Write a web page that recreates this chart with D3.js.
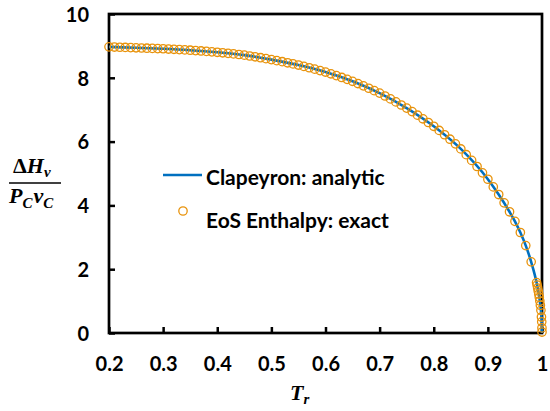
<!DOCTYPE html>
<html>
<head>
<meta charset="utf-8">
<script src="https://cdn.jsdelivr.net/npm/d3@7/dist/d3.min.js"></script>
<style>
  html, body { margin: 0; padding: 0; background: #fff; }
  svg { display: block; }
  .tick text { font-family: Lato, "Open Sans", sans-serif; font-weight: 700; font-size: 20px; fill: #000; }
</style>
</head>
<body>
<svg id="chart" width="550" height="411"></svg>
<script>
// Reduced temperature grid for the exact EoS enthalpy points
const eosTr = [
  0.20, 0.21, 0.22, 0.23, 0.24, 0.25, 0.26, 0.27, 0.28, 0.29,
  0.30, 0.31, 0.32, 0.33, 0.34, 0.35, 0.36, 0.37, 0.38, 0.39,
  0.40, 0.41, 0.42, 0.43, 0.44, 0.45, 0.46, 0.47, 0.48, 0.49,
  0.50, 0.51, 0.52, 0.53, 0.54, 0.55, 0.56, 0.57, 0.58, 0.59,
  0.60, 0.61, 0.62, 0.63, 0.64, 0.65, 0.66, 0.67, 0.68, 0.69,
  0.70, 0.71, 0.72, 0.73, 0.74, 0.75, 0.76, 0.77, 0.78, 0.79,
  0.80, 0.81, 0.82, 0.83, 0.84, 0.85, 0.86, 0.87, 0.88, 0.89,
  0.90, 0.91, 0.92, 0.93, 0.94, 0.95, 0.96, 0.97, 0.98, 0.99,
  0.991, 0.992, 0.993, 0.994, 0.995, 0.996, 0.997, 0.998, 0.999,
  0.9995, 0.9999, 1.0
];
// Dimensionless enthalpy of vaporization, dHv / (Pc vc), from the EoS
const eosEnthalpy = [
  8.970, 8.964, 8.958, 8.952, 8.946, 8.940, 8.934, 8.928, 8.922, 8.916,
  8.910, 8.902, 8.893, 8.884, 8.875, 8.865, 8.853, 8.841, 8.828, 8.814,
  8.800, 8.784, 8.767, 8.750, 8.731, 8.710, 8.684, 8.658, 8.630, 8.600,
  8.570, 8.538, 8.505, 8.471, 8.436, 8.400, 8.358, 8.315, 8.271, 8.226,
  8.180, 8.125, 8.069, 8.011, 7.951, 7.890, 7.819, 7.747, 7.673, 7.597,
  7.520, 7.430, 7.338, 7.244, 7.148, 7.050, 6.940, 6.828, 6.714, 6.598,
  6.480, 6.350, 6.215, 6.075, 5.930, 5.770, 5.590, 5.410, 5.220, 5.020,
  4.820, 4.580, 4.340, 4.080, 3.800, 3.500, 3.150, 2.740, 2.230, 1.580,
  1.500, 1.410, 1.320, 1.220, 1.120, 1.000, 0.870, 0.710, 0.500,
  0.350, 0.160, 0.030
];

// Clapeyron analytic curve
const clapeyronTr = [
  0.20, 0.25, 0.30, 0.35, 0.40, 0.45, 0.50, 0.55, 0.60, 0.65,
  0.70, 0.75, 0.80, 0.85, 0.90, 0.92, 0.94, 0.95, 0.96, 0.97,
  0.98, 0.99, 0.993, 0.996, 0.998, 0.999, 0.9997, 1.0
];
const clapeyron = [
  8.970, 8.940, 8.910, 8.865, 8.800, 8.710, 8.570, 8.400, 8.180, 7.890,
  7.520, 7.050, 6.480, 5.770, 4.820, 4.340, 3.800, 3.500, 3.150, 2.740,
  2.230, 1.580, 1.320, 1.000, 0.710, 0.500, 0.270, 0.0
];

const xTicks = [0.2, 0.3, 0.4, 0.5, 0.6, 0.7, 0.8, 0.9, 1];
const yTicks = [0, 2, 4, 6, 8, 10];
const seriesNames = ["Clapeyron: analytic", "EoS Enthalpy: exact"];

const lineColor = "#0070C0";
const markerColor = "#E8930C";

const svg = d3.select("#chart");
const plot = { left: 109, right: 542, top: 14, bottom: 333 };

const x = d3.scaleLinear().domain([0.2, 1]).range([plot.left, plot.right]);
const y = d3.scaleLinear().domain([0, 10]).range([plot.bottom, plot.top]);

// Axes with inward ticks
const xAxis = svg.append("g")
  .attr("transform", `translate(0,${plot.bottom})`)
  .call(d3.axisBottom(x).tickValues(xTicks).tickSize(-6).tickPadding(24)
    .tickFormat(d => d === 1 ? "1" : d3.format(".1f")(d)));
const yAxis = svg.append("g")
  .attr("transform", `translate(${plot.left},0)`)
  .call(d3.axisLeft(y).tickValues(yTicks).tickSize(-6).tickPadding(20)
    .tickFormat(d3.format("d")));

[xAxis, yAxis].forEach(g => {
  g.select(".domain").remove();
  g.selectAll(".tick line").attr("stroke", "#000").attr("stroke-width", 2.5);
  g.selectAll(".tick text").attr("fill", "#000");
});
xAxis.selectAll(".tick text").attr("dy", "0.72em");
yAxis.selectAll(".tick text").attr("dy", "0.36em");

// Plot frame
svg.append("rect")
  .attr("x", plot.left).attr("y", plot.top)
  .attr("width", plot.right - plot.left).attr("height", plot.bottom - plot.top)
  .attr("fill", "none").attr("stroke", "#000").attr("stroke-width", 2.7);

// Analytic curve
const line = d3.line()
  .x((d, i) => x(clapeyronTr[i]))
  .y(d => y(d))
  .curve(d3.curveMonotoneX);
svg.append("path")
  .datum(clapeyron)
  .attr("d", line)
  .attr("fill", "none")
  .attr("stroke", lineColor)
  .attr("stroke-width", 2.6);

// Exact EoS points
svg.append("g").selectAll("circle")
  .data(eosEnthalpy)
  .join("circle")
  .attr("cx", (d, i) => x(eosTr[i]))
  .attr("cy", d => y(d))
  .attr("r", 4.2)
  .attr("fill", "none")
  .attr("stroke", markerColor)
  .attr("stroke-width", 1.3);

// Legend
const legend = svg.append("g").attr("font-family", "Lato, 'Open Sans', sans-serif")
  .attr("font-weight", 700).attr("font-size", 21);
legend.append("line")
  .attr("x1", 163).attr("x2", 202).attr("y1", 175).attr("y2", 175)
  .attr("stroke", lineColor).attr("stroke-width", 2.6);
legend.append("text").attr("x", 206).attr("y", 185).text(seriesNames[0]);
legend.append("circle")
  .attr("cx", 183).attr("cy", 211).attr("r", 4.2)
  .attr("fill", "none").attr("stroke", markerColor).attr("stroke-width", 1.3);
legend.append("text").attr("x", 206).attr("y", 228).text(seriesNames[1]);

// Axis titles
const mathFont = "'Liberation Serif', 'DejaVu Serif', serif";
const xTitle = svg.append("text")
  .attr("x", 290).attr("y", 400)
  .attr("font-family", mathFont).attr("font-weight", 700).attr("font-style", "italic")
  .attr("font-size", 22);
xTitle.append("tspan").text("T");
xTitle.append("tspan").attr("font-size", 15).attr("dy", 4).text("r");

const yTitle = svg.append("g")
  .attr("font-family", mathFont).attr("font-weight", 700).attr("font-style", "italic")
  .attr("font-size", 22);
const num = yTitle.append("text").attr("x", 13).attr("y", 173);
num.append("tspan").attr("font-style", "normal").text("Δ");
num.append("tspan").text("H");
num.append("tspan").attr("font-size", 15).attr("dy", 4).text("v");
yTitle.append("line")
  .attr("x1", 9).attr("x2", 61).attr("y1", 183).attr("y2", 183)
  .attr("stroke", "#000").attr("stroke-width", 1.6);
const den = yTitle.append("text").attr("x", 9).attr("y", 203);
den.append("tspan").text("P");
den.append("tspan").attr("font-size", 15).attr("dy", 5).text("C");
den.append("tspan").attr("dx", 1).attr("dy", -5).text("v");
den.append("tspan").attr("font-size", 15).attr("dy", 5).text("C");
</script>
</body>
</html>
